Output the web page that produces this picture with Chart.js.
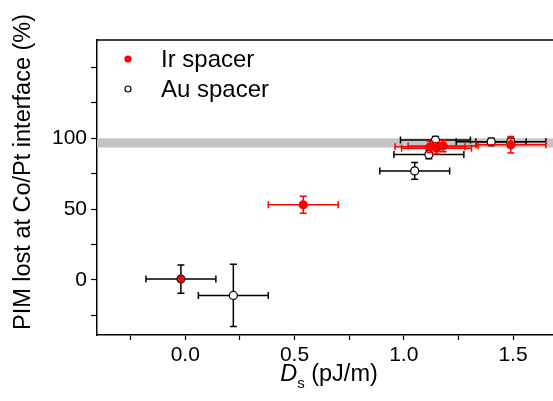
<!DOCTYPE html>
<html>
<head>
<meta charset="utf-8">
<script src="https://cdn.jsdelivr.net/npm/chart.js@4"></script>
<style>
  html, body { margin: 0; padding: 0; background: #fff; }
  #wrap { width: 553px; height: 401px; }
</style>
</head>
<body>
<div id="wrap"><canvas id="plotCanvas"></canvas></div>
<script>
// Ir spacer samples
const irX = [-0.02, 0.54, 1.12, 1.15, 1.18, 1.49];
const irY = [0.5, 53, 94, 93, 94.5, 95.5];
const irXErr = [0.16, 0.16, 0.16, 0.16, 0.16, 0.16];
const irYErr = [10, 6, 4, 4, 4, 5.8];

// Au spacer samples
const auX = [0.22, 1.05, 1.115, 1.145, 1.40, 1.49];
const auY = [-11, 77, 88.5, 98.8, 97.5, 97.5];
const auXErr = [0.16, 0.16, 0.16, 0.16, 0.16, 0.16];
const auYErr = [22, 6, 3, 2.5, 2.5, 2.5];

// grey band marking full loss
const bandRange = [93.5, 100];

const yLabels = [0, 50, 100];
const xLabels = [0, 0.5, 1.0, 1.5];

const FONT = "'Liberation Sans', Arial, sans-serif";
const RED = '#ff0000';

function toPoints(xs, ys, xe, ye) {
    return xs.map((x, i) => ({ x: x, y: ys[i], xErr: xe[i], yErr: ye[i] }));
}

// let the plot run right up to the canvas edge (frame is open on the right)
const fullWidth = {
    id: 'fullWidth',
    afterLayout(chart) {
        const a = chart.chartArea, xs = chart.scales.x;
        a.right = chart.width;
        a.width = a.right - a.left;
        xs.right = chart.width;
        xs.width = xs.right - xs.left;
        xs.configure();
    }
};

// draws x/y error bars for a dataset right before its markers
const errorBars = {
    id: 'errorBars',
    beforeDatasetDraw(chart, args) {
        const ds = chart.data.datasets[args.index];
        const xs = chart.scales.x, ys = chart.scales.y;
        const c = chart.ctx;
        const cap = 3.5;
        c.save();
        c.lineWidth = 1.5;
        ds.data.forEach((p, i) => {
            c.strokeStyle = Array.isArray(ds.errorColor) ? ds.errorColor[i] : ds.errorColor;
            const px = xs.getPixelForValue(p.x), py = ys.getPixelForValue(p.y);
            const x0 = xs.getPixelForValue(p.x - p.xErr), x1 = xs.getPixelForValue(p.x + p.xErr);
            const y0 = ys.getPixelForValue(p.y - p.yErr), y1 = ys.getPixelForValue(p.y + p.yErr);
            c.beginPath();
            c.moveTo(x0, py); c.lineTo(x1, py);
            c.moveTo(x0, py - cap); c.lineTo(x0, py + cap);
            c.moveTo(x1, py - cap); c.lineTo(x1, py + cap);
            c.moveTo(px, y0); c.lineTo(px, y1);
            c.moveTo(px - cap, y0); c.lineTo(px + cap, y0);
            c.moveTo(px - cap, y1); c.lineTo(px + cap, y1);
            c.stroke();
        });
        c.restore();
    }
};

// band, frame top line, titles and legend
const decorations = {
    id: 'decorations',
    beforeDatasetsDraw(chart) {
        const a = chart.chartArea, ys = chart.scales.y;
        const c = chart.ctx;
        const top = ys.getPixelForValue(bandRange[1]);
        const bot = ys.getPixelForValue(bandRange[0]);
        c.save();
        c.fillStyle = '#c4c4c4';
        c.fillRect(a.left, top, a.right - a.left, bot - top);
        c.restore();
    },
    afterDraw(chart) {
        const a = chart.chartArea;
        const c = chart.ctx;
        c.save();
        c.strokeStyle = '#000';
        c.lineWidth = 1.5;
        c.beginPath();
        c.moveTo(a.left - 0.75, a.top);
        c.lineTo(a.right, a.top);
        c.stroke();

        // y title
        c.fillStyle = '#000';
        c.font = '23.5px ' + FONT;
        c.textAlign = 'center';
        c.textBaseline = 'middle';
        c.translate(24, 172);
        c.rotate(-Math.PI / 2);
        c.fillText('PIM lost at Co/Pt interface (%)', 0, 0);
        c.restore();

        // x title: italic D with subscript s
        c.save();
        c.fillStyle = '#000';
        c.textBaseline = 'alphabetic';
        c.textAlign = 'left';
        const main = '23.5px ' + FONT, ital = 'italic 23.5px ' + FONT, sub = '15px ' + FONT;
        c.font = ital; const wD = c.measureText('D').width;
        c.font = sub; const wS = c.measureText('s').width;
        c.font = main; const wR = c.measureText(' (pJ/m)').width;
        let x = 329 - (wD + wS + wR) / 2;
        const base = 381;
        c.font = ital; c.fillText('D', x, base); x += wD;
        c.font = sub; c.fillText('s', x, base + 7); x += wS;
        c.font = main; c.fillText(' (pJ/m)', x, base);

        // legend, Ir listed first
        const order = [1, 0];
        order.forEach((di, k) => {
            const ds = chart.data.datasets[di];
            const ly = 59 + k * 30;
            c.beginPath();
            c.arc(128, ly, 3, 0, Math.PI * 2);
            c.fillStyle = ds.backgroundColor;
            c.fill();
            c.lineWidth = 1.2;
            c.strokeStyle = ds.legendBorder;
            c.stroke();
            c.fillStyle = '#000';
            c.font = '24px ' + FONT;
            c.textBaseline = 'middle';
            c.fillText(ds.label, 161, ly + 1);
        });
        c.restore();
    }
};

const ctx = document.getElementById('plotCanvas');

const chart = new Chart(ctx, {
    type: 'scatter',
    data: {
        datasets: [{
            label: 'Au spacer',
            data: toPoints(auX, auY, auXErr, auYErr),
            backgroundColor: '#fff',
            borderColor: '#000',
            legendBorder: '#000',
            borderWidth: 1.2,
            pointRadius: 4,
            errorColor: '#000',
            order: 2
        }, {
            label: 'Ir spacer',
            data: toPoints(irX, irY, irXErr, irYErr),
            backgroundColor: RED,
            borderColor: ['#222', RED, RED, RED, RED, RED],
            legendBorder: RED,
            borderWidth: 1.2,
            pointRadius: 4,
            // the bare reference sample keeps black bars
            errorColor: ['#000', RED, RED, RED, RED, RED],
            order: 1
        }]
    },
    options: {
        animation: false,
        responsive: true,
        maintainAspectRatio: false,
        layout: { padding: { top: 40, right: 0, left: 0, bottom: 0 } },
        plugins: {
            legend: { display: false },
            tooltip: { enabled: false }
        },
        scales: {
            x: {
                type: 'linear',
                min: -0.404,
                max: 1.683,
                afterFit(scale) { scale.height = 66; },
                border: { display: true, color: '#000', width: 1.5 },
                grid: { drawOnChartArea: false, tickLength: 5, color: '#000', tickWidth: 1.2 },
                ticks: {
                    stepSize: 0.25,
                    includeBounds: false,
                    maxRotation: 0,
                    autoSkip: false,
                    padding: 3,
                    color: '#000',
                    font: { family: FONT, size: 21 },
                    callback: v => xLabels.some(t => Math.abs(t - v) < 1e-6) ? v.toFixed(1) : ''
                }
            },
            y: {
                type: 'linear',
                min: -39,
                max: 169.5,
                afterFit(scale) { scale.width = 97; },
                border: { display: true, color: '#000', width: 1.5 },
                grid: { drawOnChartArea: false, tickLength: 6, color: '#000', tickWidth: 1.2 },
                ticks: {
                    stepSize: 25,
                    includeBounds: false,
                    autoSkip: false,
                    padding: 4,
                    color: '#000',
                    font: { family: FONT, size: 21 },
                    callback: v => yLabels.includes(v) ? String(v) : ''
                }
            }
        }
    },
    plugins: [fullWidth, errorBars, decorations]
});
</script>
</body>
</html>
